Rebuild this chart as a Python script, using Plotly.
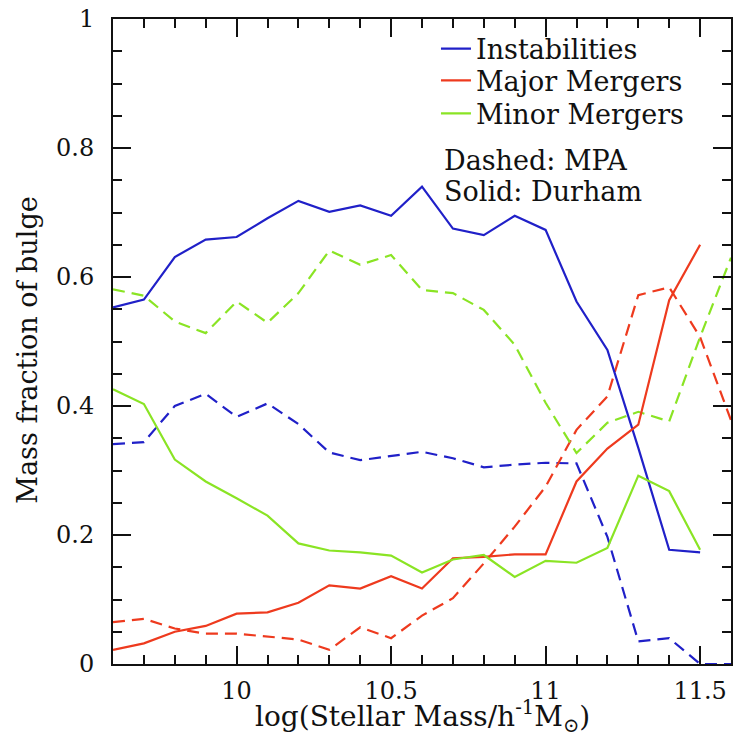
import plotly.graph_objects as go

# ---- data ----
mass = [9.6, 9.7, 9.8, 9.9, 10.0, 10.1, 10.2, 10.3, 10.4, 10.5, 10.6,
        10.7, 10.8, 10.9, 11.0, 11.1, 11.2, 11.3, 11.4, 11.5, 11.6]

inst_durham = [0.553, 0.565, 0.631, 0.658, 0.662, 0.691, 0.718, 0.701, 0.711, 0.695, 0.740,
               0.675, 0.665, 0.695, 0.673, 0.562, 0.487, 0.335, 0.177, 0.173, None]
major_durham = [0.022, 0.032, 0.050, 0.059, 0.078, 0.080, 0.095, 0.122, 0.117, 0.136, 0.117,
                0.164, 0.166, 0.170, 0.170, 0.283, 0.334, 0.371, 0.564, 0.650, None]
minor_durham = [0.426, 0.403, 0.317, 0.283, 0.257, 0.230, 0.187, 0.176, 0.173, 0.168, 0.142,
                0.162, 0.169, 0.135, 0.160, 0.157, 0.180, 0.292, 0.268, 0.177, None]

inst_mpa = [0.341, 0.344, 0.400, 0.419, 0.383, 0.404, 0.372, 0.328, 0.316, 0.322, 0.329,
            0.319, 0.305, 0.309, 0.312, 0.311, 0.197, 0.035, 0.040, 0.0, 0.0]
major_mpa = [0.065, 0.070, 0.055, 0.047, 0.047, 0.043, 0.038, 0.022, 0.057, 0.040, 0.075,
             0.102, 0.156, 0.213, 0.275, 0.363, 0.415, 0.572, 0.584, 0.507, 0.378]
minor_mpa = [0.581, 0.571, 0.531, 0.513, 0.562, 0.529, 0.575, 0.641, 0.619, 0.634, 0.580,
             0.575, 0.549, 0.495, 0.405, 0.327, 0.374, 0.391, 0.376, 0.507, 0.630]

series_names = ["Instabilities", "Major Mergers", "Minor Mergers"]
x_title = "log(Stellar Mass/h<sup>-1</sup>M<sub>⊙</sub>)"
y_title = "Mass fraction of bulge"
note_lines = ["Dashed: MPA", "Solid: Durham"]

BLUE = "#2020c8"
RED = "#ee3a1e"
GREEN = "#8ae424"
FONT = "DejaVu Serif"
INK = "#111"
DASH = "12px,7px"
colors = [BLUE, RED, GREEN]
legend_ids = ["legend", "legend2", "legend3"]
legend_y = [0.9535, 0.904, 0.853]

fig = go.Figure()

for name, ys, col in zip(series_names, [inst_mpa, major_mpa, minor_mpa], colors):
    fig.add_trace(go.Scatter(x=mass, y=ys, mode="lines", name=name + " (MPA)",
                             showlegend=False,
                             line=dict(color=col, width=2.2, dash=DASH)))

for name, ys, col, lg in zip(series_names, [inst_durham, major_durham, minor_durham],
                             colors, legend_ids):
    fig.add_trace(go.Scatter(x=mass, y=ys, mode="lines", name=name,
                             showlegend=True, legend=lg,
                             line=dict(color=col, width=2.2)))

axis_common = dict(
    showline=True, linewidth=2, linecolor=INK,
    mirror="allticks", ticks="inside", tickwidth=2, tickcolor=INK,
    showgrid=False, zeroline=False,
    tickfont=dict(family=FONT, size=24, color=INK),
)

fig.update_xaxes(range=[9.6, 11.6], tick0=10, dtick=0.5, ticklen=18,
                 ticklabelstandoff=4,
                 minor=dict(ticks="inside", ticklen=9, tickwidth=2, tickcolor=INK,
                            dtick=0.1, tick0=9.6, showgrid=False),
                 **axis_common)
fig.update_yaxes(range=[0, 1], tick0=0, dtick=0.2, ticklen=18,
                 ticklabelstandoff=12,
                 minor=dict(ticks="inside", ticklen=9, tickwidth=2, tickcolor=INK,
                            dtick=0.05, tick0=0, showgrid=False),
                 **axis_common)

# axis titles
fig.add_annotation(xref="paper", yref="paper", x=0.5, y=-0.081, xanchor="center",
                   yanchor="middle", showarrow=False, text=x_title,
                   font=dict(family=FONT, size=28, color=INK))
fig.add_annotation(xref="paper", yref="paper", x=-0.139, y=0.486, xanchor="center",
                   yanchor="middle", showarrow=False, text=y_title, textangle=-90,
                   font=dict(family=FONT, size=27, color=INK))

# notes
fig.add_annotation(xref="paper", yref="paper", x=0.532, y=0.781, xanchor="left",
                   yanchor="middle", showarrow=False, text=note_lines[0],
                   font=dict(family=FONT, size=27, color=INK))
fig.add_annotation(xref="paper", yref="paper", x=0.532, y=0.732, xanchor="left",
                   yanchor="middle", showarrow=False, text=note_lines[1],
                   font=dict(family=FONT, size=27, color=INK))

legend_style = dict(x=0.5226, xanchor="left", yanchor="middle",
                    bgcolor="rgba(0,0,0,0)", borderwidth=0, itemwidth=30,
                    font=dict(family=FONT, size=27, color=INK))

fig.update_layout(
    width=735, height=744,
    margin=dict(l=113, r=2, t=19, b=80),
    paper_bgcolor="white", plot_bgcolor="white",
    showlegend=True,
    legend=dict(y=legend_y[0], **legend_style),
    legend2=dict(y=legend_y[1], **legend_style),
    legend3=dict(y=legend_y[2], **legend_style),
)

fig.write_html("out.html")
